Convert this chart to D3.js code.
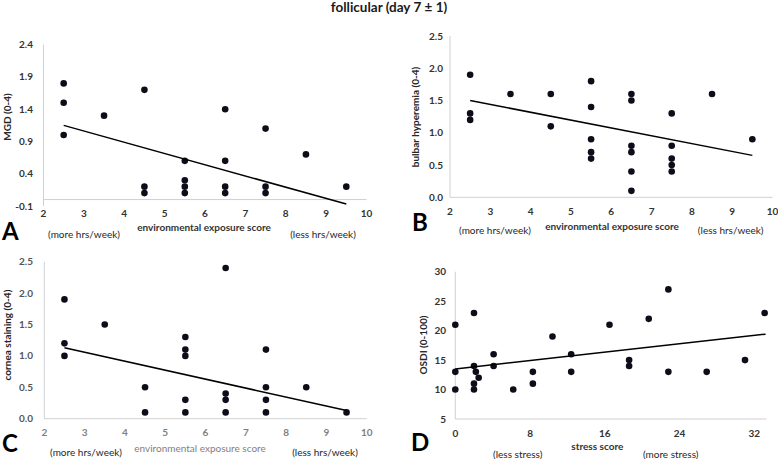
<!DOCTYPE html>
<html><head><meta charset="utf-8">
<script src="https://cdn.jsdelivr.net/npm/d3@7"></script>
<style>body{margin:0;background:#fff}svg{display:block;font-family:Lato,"Open Sans",sans-serif}</style>
</head><body>
<svg id="c" width="778" height="459"></svg>
<script>
// ---- data ----
const titleText = "follicular (day 7 ± 1)";
const expX_A = [2.5,2.5,2.5,3.5,4.5,4.5,4.5,5.5,5.5,5.5,5.5,6.5,6.5,6.5,6.5,7.5,7.5,7.5,8.5,9.5];
const mgd    = [1.8,1.5,1.0,1.3,1.7,0.2,0.1,0.6,0.3,0.2,0.1,1.4,0.6,0.2,0.1,1.1,0.2,0.1,0.7,0.2];
const trendA = [[2.5,1.15],[9.5,-0.07]];
const ticksA = [-0.1,0.4,0.9,1.4,1.9,2.4];

const expX_B = [2.5,2.5,2.5,3.5,4.5,4.5,5.5,5.5,5.5,5.5,5.5,6.5,6.5,6.5,6.5,6.5,6.5,7.5,7.5,7.5,7.5,7.5,8.5,9.5];
const bulbar = [1.9,1.3,1.2,1.6,1.6,1.1,1.8,1.4,0.9,0.7,0.6,1.6,1.5,0.8,0.7,0.4,0.1,1.3,0.8,0.6,0.5,0.4,1.6,0.9];
const trendB = [[2.5,1.50],[9.5,0.65]];
const ticksB = [0,0.5,1.0,1.5,2.0,2.5];

const expX_C = [2.5,2.5,2.5,3.5,4.5,4.5,5.5,5.5,5.5,5.5,5.5,6.5,6.5,6.5,6.5,7.5,7.5,7.5,7.5,8.5,9.5];
const cornea = [1.9,1.2,1.0,1.5,0.5,0.1,1.3,1.1,1.0,0.3,0.1,2.4,0.4,0.3,0.1,1.1,0.5,0.3,0.1,0.5,0.1];
const trendC = [[2.5,1.13],[9.5,0.13]];
const ticksC = [0,0.5,1.0,1.5,2.0,2.5];

const expTicks = [2,3,4,5,6,7,8,9,10];

const stress = [0,0,0,2,2,2.2,2.5,2,2,4.1,4.1,6.2,8.3,8.3,10.4,12.4,12.4,16.5,18.6,18.6,20.7,22.8,22.8,26.9,31,33.1];
const osdi   = [21,13,10,23,14,13,12,11,10,16,14,10,13,11,19,16,13,21,15,14,22,27,13,13,15,23];
const trendD = [[0,13.5],[33.2,19.4]];
const ticksDy = [5,10,15,20,25,30];
const ticksDx = [0,8,16,24,32];

const svg = d3.select("#c");
svg.append("text").attr("x",389).attr("y",12).attr("text-anchor","middle")
  .attr("font-size",13.5).attr("font-weight","bold").attr("fill","#1a1a1a").text(titleText);

function panel(o){
  const g = svg.append("g");
  const x = d3.scaleLinear().domain(o.xd).range(o.xr);
  const y = d3.scaleLinear().domain(o.yd).range(o.yr);
  // axes lines
  g.append("line").attr("x1",o.xr[0]).attr("x2",x(o.xd[1])).attr("y1",y(o.base)).attr("y2",y(o.base))
    .attr("stroke","#d0d0d0").attr("stroke-width",1);
  g.append("line").attr("x1",o.xr[0]).attr("x2",o.xr[0]).attr("y1",y(o.yd[1])).attr("y2",y(o.yd[0]))
    .attr("stroke","#d0d0d0").attr("stroke-width",1);
  // tick labels
  g.selectAll(".yt").data(o.yticks).join("text")
    .attr("x",o.ylabX).attr("y",d=>y(d)).attr("dy","0.35em").attr("text-anchor","end")
    .attr("font-size",10).attr("font-weight","bold").attr("fill",o.ytc)
    .text(o.yfmt);
  g.selectAll(".xt").data(o.xticks).join("text")
    .attr("x",d=>x(d)).attr("y",o.xlabY).attr("dy","0.35em").attr("text-anchor","middle")
    .attr("font-size",10).attr("font-weight","bold").attr("fill",o.xtc)
    .text(d=>d);
  // points
  g.selectAll("circle").data(o.xs.map((v,i)=>[v,o.ys[i]])).join("circle")
    .attr("cx",d=>x(d[0])).attr("cy",d=>y(d[1])).attr("r",3.3).attr("fill","#0d0d1a");
  // trend
  g.append("path").datum(o.trend).attr("d",d3.line().x(d=>x(d[0])).y(d=>y(d[1])))
    .attr("stroke","#000").attr("stroke-width",1.5).attr("fill","none");
  // y label
  g.append("text").attr("transform",`translate(${o.yt[0]},${o.yt[1]}) rotate(-90)`)
    .attr("text-anchor","middle").attr("dy","0.35em").attr("font-size",10).attr("font-weight","bold")
    .attr("fill","#262626").text(o.ytitle);
  // x title
  g.append("text").attr("x",o.xt[0]).attr("y",o.xt[1]).attr("dy","0.35em").attr("text-anchor","middle")
    .attr("font-size",10).attr("font-weight",o.xtw).attr("fill",o.xtcol).text(o.xtitle);
  g.append("text").attr("x",o.l1[0]).attr("y",o.l1[1]).attr("dy","0.35em").attr("text-anchor","middle")
    .attr("font-size",10).attr("fill","#262626").text(o.l1t);
  g.append("text").attr("x",o.l2[0]).attr("y",o.l2[1]).attr("dy","0.35em").attr("text-anchor","middle")
    .attr("font-size",10).attr("fill","#262626").text(o.l2t);
  g.append("text").attr("x",o.lt[0]).attr("y",o.lt[1]).attr("dy","0.35em")
    .attr("font-size",24).attr("font-weight","bold").attr("fill","#000").text(o.letter);
}

panel({xd:[2,10],xr:[43.5,366.5],yd:[-0.1,2.4],yr:[206,44.7],base:0,
  yticks:ticksA,yfmt:d=>d.toFixed(1),ylabX:33,xticks:expTicks,xlabY:213,ytc:"#333",xtc:"#333",
  xs:expX_A,ys:mgd,trend:trendA,ytitle:"MGD (0-4)",yt:[7,117],
  xtitle:"environmental exposure score",xt:[204,227],xtw:"bold",xtcol:"#333",
  l1t:"(more hrs/week)",l1:[84,234],l2t:"(less hrs/week)",l2:[323,234],letter:"A",lt:[2,232]});

panel({xd:[2,10],xr:[450,772.5],yd:[0,2.5],yr:[197.3,36],base:0,
  yticks:ticksB,yfmt:d=>d.toFixed(1),ylabX:443,xticks:expTicks,xlabY:211,ytc:"#333",xtc:"#333",
  xs:expX_B,ys:bulbar,trend:trendB,ytitle:"bulbar hyperemia (0-4)",yt:[415,117],
  xtitle:"environmental exposure score",xt:[612,226.5],xtw:"bold",xtcol:"#333",
  l1t:"(more hrs/week)",l1:[495,230],l2t:"(less hrs/week)",l2:[730.7,230],letter:"B",lt:[412,223]});

panel({xd:[2,10],xr:[44.3,366.7],yd:[0,2.5],yr:[418.7,261.7],base:0,
  yticks:ticksC,yfmt:d=>d.toFixed(1),ylabX:33,xticks:expTicks,xlabY:432.7,ytc:"#555",xtc:"#7f7f7f",
  xs:expX_C,ys:cornea,trend:trendC,ytitle:"cornea staining (0-4)",yt:[7,335],
  xtitle:"environmental exposure score",xt:[200,448],xtw:"normal",xtcol:"#7f7f7f",
  l1t:"(more hrs/week)",l1:[86,452.7],l2t:"(less hrs/week)",l2:[325,452.7],letter:"C",lt:[2,444]});

panel({xd:[0,33.3],xr:[455.3,766.5],yd:[5,30],yr:[419,271.7],base:5,
  yticks:ticksDy,yfmt:d=>d,ylabX:446,xticks:ticksDx,xlabY:433,ytc:"#333",xtc:"#333",
  xs:stress,ys:osdi,trend:trendD,ytitle:"OSDI (0-100)",yt:[423,345],
  xtitle:"stress score",xt:[597.3,446.5],xtw:"bold",xtcol:"#333",
  l1t:"(less stress)",l1:[517.7,454],l2t:"(more stress)",l2:[670.7,454],letter:"D",lt:[411,443]});
</script>
</body></html>
